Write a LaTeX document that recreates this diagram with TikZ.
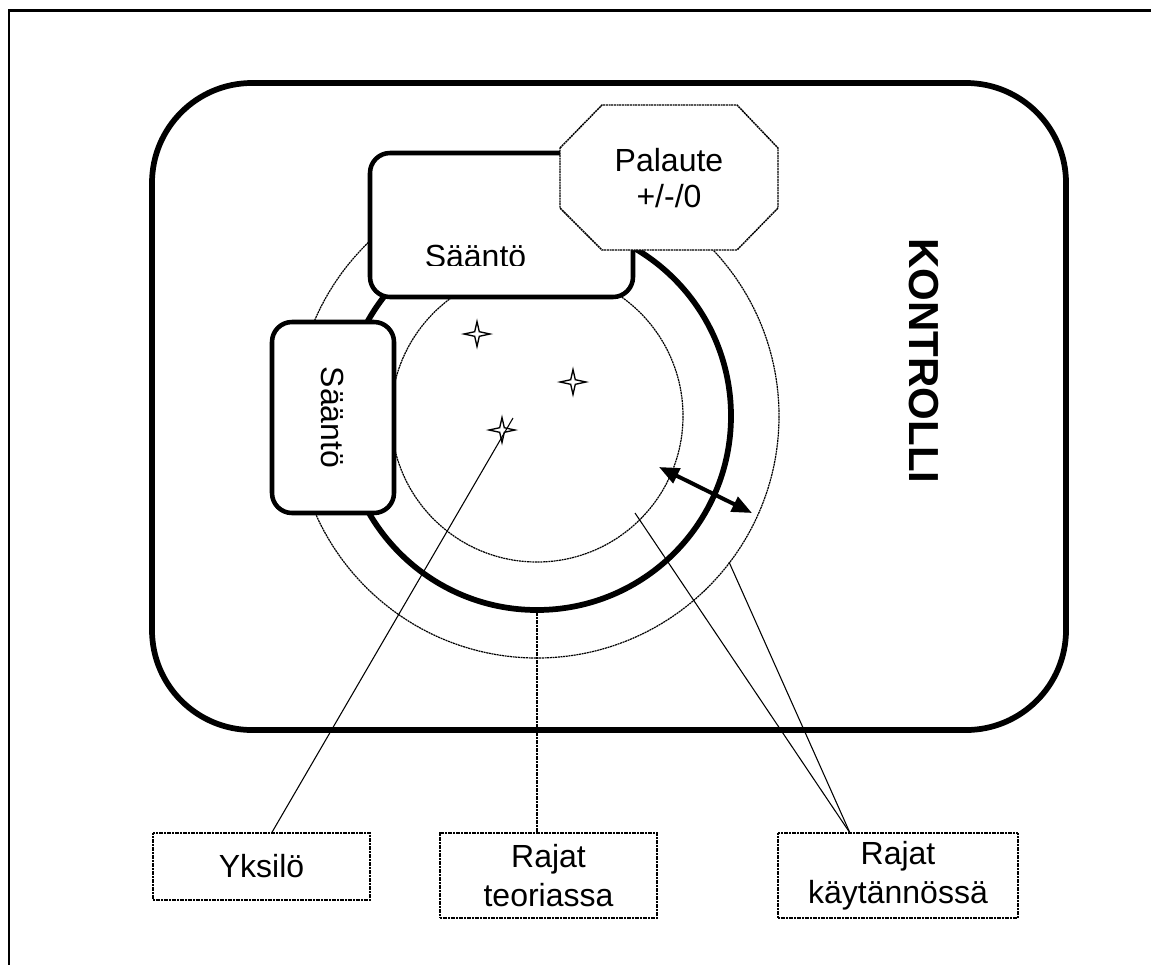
\documentclass[tikz,border=0pt]{standalone}
\usepackage{fontspec}
\setmainfont{Liberation Sans}
\usetikzlibrary{arrows.meta}
\begin{document}
\begin{tikzpicture}[x=0.75pt,y=-0.75pt,
  thindot/.style={line width=0.9pt, dash pattern=on 1.5pt off 0.5pt},
  thinline/.style={line width=0.8pt},
  labelbox/.style={draw, line width=1.1pt, dash pattern=on 1.5pt off 0.5pt, fill=white, inner sep=0pt, align=center,
    font=\fontsize{24}{29}\selectfont},
  rulebox/.style={draw, line width=3.4pt, fill=white, rounded corners=15pt, inner sep=0pt},
  bigtext/.style={font=\fontsize{24}{27}\selectfont, align=center, inner sep=0pt},
  dblarrow/.style={line width=3pt, {Triangle[length=15pt,width=12pt]}-{Triangle[length=15pt,width=12pt]}},
  sparkle/.pic={\draw[fill=white, line width=1pt] (0,-12.5) -- (2.3,-2.3) -- (13,0) -- (2.3,2.3) -- (0,12.5) -- (-2.3,2.3) -- (-13,0) -- (-2.3,-2.3) -- cycle;}
]
\clip (0,0) rectangle (1151,964);
\fill[white] (0,0) rectangle (1151,964);
% outer frame (only left and top edges visible)
\draw[line width=1.6pt] (9,980) -- (9,10.5) -- (1170,10.5);
% big rounded rectangle
\draw[line width=4.3pt, rounded corners=75pt] (152,83) rectangle (1066,730);
% circles
\coordinate (c) at (537,416);
\draw[thindot] (c) circle[radius=146];
\draw[thindot] (c) circle[radius=242];
\draw[line width=4.3pt] (c) circle[radius=194];
% stars
\pic (s1) at (477,334) {sparkle};
\pic (s2) at (573,382) {sparkle};
\pic (s3) at (502,430) {sparkle};
% bottom labels
\node[labelbox, minimum width=162.75pt, minimum height=50.25pt] (yks) at (261.5,866.5) {Yksilö};
\node[labelbox, minimum width=162.75pt, minimum height=63.75pt] (teo) at (548.5,875.5) {Rajat\\teoriassa};
\node[labelbox, minimum width=180pt, minimum height=63.75pt] (kay) at (898,875.5) {Rajat\\käytännössä};
% connector end points
\coordinate (yksend) at (513,418);
\coordinate (teoend) at (537,610);
\coordinate (inner1) at (635,513);
\coordinate (outer1) at (729,562);
\coordinate (kaytop) at (850,833);
\draw[thinline] (yks.north -| 272,0) -- (yksend);
\draw[thindot] (teo.north -| teoend) -- (teoend);
\draw[thinline] (kaytop) -- (inner1);
\draw[thinline] (kaytop) -- (outer1);
% double arrow
\coordinate (a1) at (659,467);
\coordinate (a2) at (752,513);
\draw[dblarrow] (a1) -- (a2);
% rule boxes
\node[rulebox, minimum width=91.5pt, minimum height=143.25pt] (rule2) at (333,417.5) {};
\node[bigtext, rotate=-90] (rule2txt) at (rule2.center) {Sääntö};
\node[rulebox, minimum width=197.25pt, minimum height=108pt] (rule1) at (501.5,225) {};
\begin{scope}
  \clip (372,155) rectangle (631,265);
  \node[bigtext, anchor=base] (rule1txt) at (475.5,267) {Sääntö};
\end{scope}
% Palaute octagon
\draw[line width=1.1pt, dash pattern=on 1.5pt off 0.5pt, fill=white] (560,148) -- (602,105) -- (737,105) -- (778,148) -- (778,208) -- (737,250) -- (602,250) -- (560,208) -- cycle;
\node[bigtext] (pal) at (669,178) {Palaute\\+/-/0};
% KONTROLLI
\node[font=\fontsize{31.5}{34}\selectfont\bfseries, rotate=-90, inner sep=0pt] (kontrolli) at (924,361) {KONTROLLI};
\end{tikzpicture}
\end{document}
